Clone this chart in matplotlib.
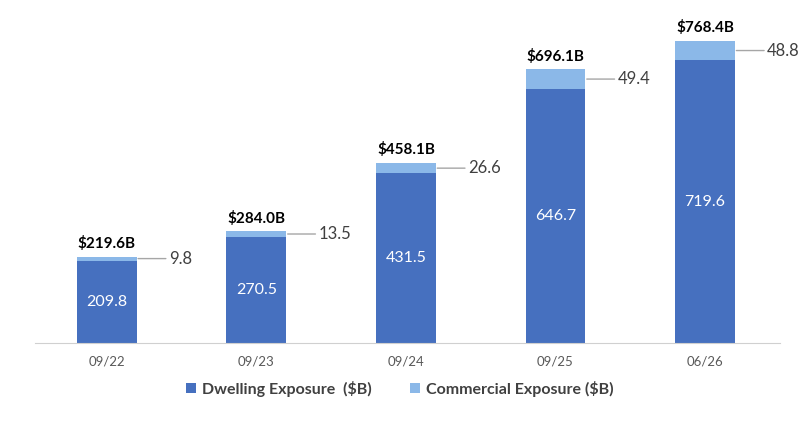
import matplotlib
matplotlib.use("Agg")
import matplotlib.pyplot as plt
import numpy as np

categories = ["09/22", "09/23", "09/24", "09/25", "06/26"]
dwelling = [209.8, 270.5, 431.5, 646.7, 719.6]
commercial = [9.8, 13.5, 26.6, 49.4, 48.8]
totals = ["$219.6B", "$284.0B", "$458.1B", "$696.1B", "$768.4B"]

plt.rcParams['font.family'] = ['Lato', 'DejaVu Sans']

c_dw = '#4670BF'
c_cm = '#8BB8E8'

fig = plt.figure(figsize=(7.99, 4.29), dpi=100)
ax = fig.add_axes([0.0438, 0.2005, 0.9322, 0.733])

x = np.arange(len(categories))
w = 0.4
b1 = ax.bar(x, dwelling, w, color=c_dw, label='Dwelling Exposure  ($B)')
b2 = ax.bar(x, commercial, w, bottom=dwelling, color=c_cm, label='Commercial Exposure ($B)')

ax.set_xlim(-0.48, 4.5)
ax.set_ylim(0, 800)

for i in range(len(x)):
    ax.text(x[i], dwelling[i] / 2, f"{dwelling[i]:.1f}", ha='center', va='center',
            color='white', fontsize=11.5)
    top = dwelling[i] + commercial[i]
    ax.annotate(totals[i], (x[i], top), xytext=(0, 4), textcoords='offset points',
                ha='center', va='bottom', fontsize=11, fontweight='bold', color='black')
    ymid = dwelling[i] + commercial[i] / 2
    ax.annotate(f"{commercial[i]:.1f}", xy=(x[i] + w / 2, ymid),
                xytext=(23, 0), textcoords='offset points', ha='left', va='center',
                fontsize=12, color='#404040',
                arrowprops=dict(arrowstyle='-', color='#A6A6A6', lw=1,
                                shrinkA=0, shrinkB=1))

for s in ['top', 'right', 'left']:
    ax.spines[s].set_visible(False)
ax.spines['bottom'].set_color('#D0D0D0')
ax.set_yticks([])
ax.set_xticks(x)
ax.set_xticklabels(categories, color='#595959', fontsize=9.5)
ax.tick_params(axis='x', length=0, pad=9)

leg = ax.legend(loc='upper center', bbox_to_anchor=(0.49, -0.075), ncol=2, frameon=False,
                handlelength=0.6, handleheight=0.6, handletextpad=0.4, columnspacing=2.4,
                prop={'size': 11.5, 'weight': 'bold'})
for t in leg.get_texts():
    t.set_color('#404040')

fig.savefig('out.png', dpi=100)
